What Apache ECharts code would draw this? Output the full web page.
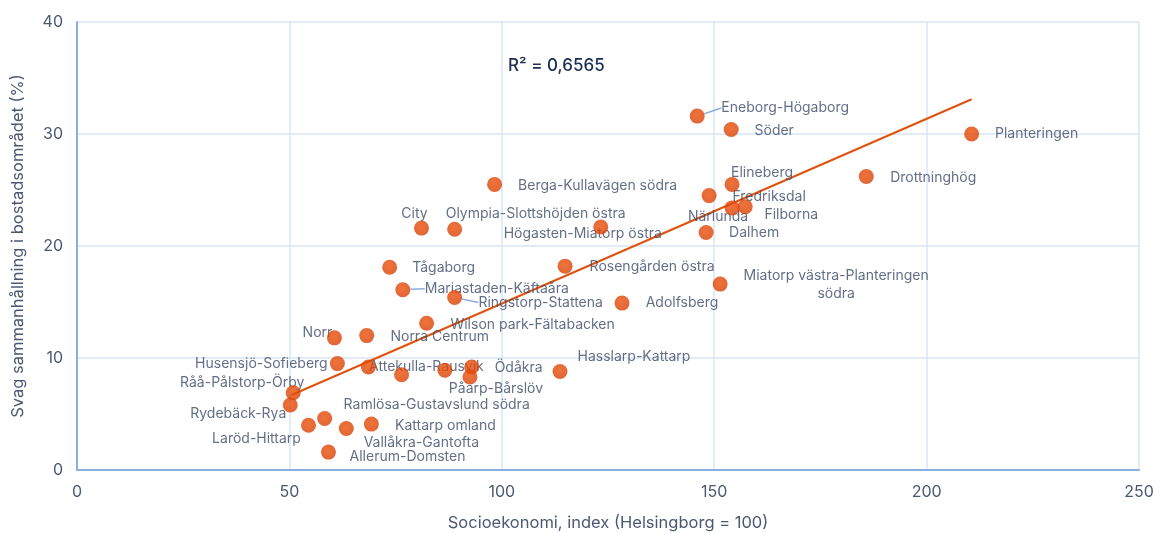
<!DOCTYPE html>
<html>
<head>
<meta charset="utf-8">
<script src="https://cdn.jsdelivr.net/npm/echarts@6/dist/echarts.min.js"></script>
<style>
html,body{margin:0;padding:0;background:#fff;}
#chart{width:1157px;height:533px;}
</style>
</head>
<body>
<div id="chart"></div>
<script>
// bostadsområden
var areaNames = ['Eneborg-Högaborg','Söder','Planteringen','Drottninghög','Elineberg','Berga-Kullavägen södra',
  'Fredriksdal','Närlunda','Filborna','Dalhem','City','Olympia-Slottshöjden östra','Högasten-Miatorp östra',
  'Tågaborg','Rosengården östra','Miatorp västra-Planteringen\nsödra','Mariastaden-Käftaåra','Ringstorp-Stattena',
  'Adolfsberg','Wilson park-Fältabacken','Norr','Norra Centrum','Husensjö-Sofieberg','Attekulla-Rausvik',
  '','','Ödåkra','Påarp-Bårslöv','Hasslarp-Kattarp','Råå-Pålstorp-Örby','Rydebäck-Rya','Laröd-Hittarp',
  'Ramlösa-Gustavslund södra','Vallåkra-Gantofta','Kattarp omland','Allerum-Domsten'];
// socioekonomi, index (x)
var socioIndex = [146.0,154.0,210.6,185.8,154.2,98.3,148.8,154.2,157.3,148.1,81.1,88.9,123.3,
  73.6,114.9,151.4,76.7,88.9,128.3,82.3,60.6,68.2,61.3,68.6,76.4,86.6,92.9,92.5,113.7,50.9,50.2,54.5,
  58.3,63.4,69.3,59.2];
// svag sammanhållning, % (y)
var weakCohesion = [31.6,30.4,30.0,26.2,25.5,25.5,24.5,23.4,23.5,21.2,21.6,21.5,21.7,
  18.1,18.2,16.6,16.1,15.4,14.9,13.1,11.8,12.0,9.5,9.2,8.5,8.9,9.2,8.3,8.8,6.9,5.8,4.0,
  4.6,3.7,4.1,1.6];
// trendlinje (ändpunkter)
var trendX = [50.5, 210.6];
var trendY = [6.7, 33.1];
var rSquared = 'R² = 0,6565';

// etikettplacering i px relativt punkten
var labelOffsets = [[88,-8],[43,1],[65,0],[67,1],[30,-12],[103,1],
  [60,1],[-14,9],[46,8],[48,0],[-7,-14],[81,-15],[-18,7],
  [54,1],[87,1],[116,1],[94,-1],[86,5],
  [60,0],[106,2],[-17,-5],[73,1],[-76,0],[58,0],
  [0,0],[0,0],[47,1],[26,12],[74,-15],[-51,-10],[-52,9],[-52,14],
  [112,-14],[75,14],[74,2],[79,5]];
var leaderIdx = [0,16,17];

var pts = [];
for (var i = 0; i < areaNames.length; i++) {
  var item = {name: areaNames[i], value: [socioIndex[i], weakCohesion[i]]};
  if (leaderIdx.indexOf(i) >= 0) {
    item.labelLine = {show: true, length2: 0, lineStyle: {color: '#8eaede', width: 1.5}};
  }
  pts.push(item);
}
var trend = [[trendX[0], trendY[0]], [trendX[1], trendY[1]]];

var fontFam = 'Inter, "Open Sans", sans-serif';
var myChart = echarts.init(document.getElementById('chart'));
var option = {
  animation: false,
  textStyle: {fontFamily: fontFam},
  grid: {left: 77, right: 18, top: 22, bottom: 63, containLabel: false, outerBoundsMode: 'none'},
  xAxis: {
    type: 'value', min: 0, max: 250, interval: 50,
    name: 'Socioekonomi, index (Helsingborg = 100)',
    nameLocation: 'middle', nameGap: 45,
    nameTextStyle: {color: '#4c5873', fontSize: 16.5, fontFamily: fontFam},
    axisLine: {lineStyle: {color: '#8eaede', width: 2}},
    axisTick: {show: false},
    axisLabel: {color: '#4c5873', fontSize: 16, margin: 14},
    splitLine: {lineStyle: {color: '#d9e4f6', width: 1.5}}
  },
  yAxis: {
    type: 'value', min: 0, max: 40, interval: 10,
    name: 'Svag sammanhållning i bostadsområdet (%)',
    nameLocation: 'middle', nameGap: 50, nameRotate: 90,
    nameTextStyle: {color: '#4c5873', fontSize: 16.5, fontFamily: fontFam},
    axisLine: {show: true, lineStyle: {color: '#8eaede', width: 2}},
    axisTick: {show: false},
    axisLabel: {color: '#4c5873', fontSize: 16, margin: 14},
    splitLine: {lineStyle: {color: '#d9e4f6', width: 1.5}}
  },
  graphic: [{
    type: 'text', left: 508, top: 57,
    style: {text: rSquared, fill: '#1b2d50', font: '500 17px ' + fontFam}
  }],
  series: [
    {
      type: 'line',
      data: trend,
      symbol: 'none',
      z: 1,
      lineStyle: {color: '#e0520f', width: 2},
      silent: true
    },
    {
      name: 'etiketter',
      type: 'scatter',
      data: pts,
      symbolSize: 15,
      z: 2,
      itemStyle: {color: 'rgba(0,0,0,0)'},
      label: {
        show: true,
        position: 'inside',
        formatter: '{b}',
        color: '#3c4a68',
        fontSize: 14,
        fontFamily: fontFam,
        align: 'center',
        lineHeight: 18
      },
      labelLayout: function (p) {
        var o = labelOffsets[p.dataIndex];
        return {dx: o[0], dy: o[1]};
      }
    },
    {
      name: 'områden',
      type: 'scatter',
      data: pts.map(function (d) { return d.value; }),
      symbolSize: 15,
      z: 3,
      itemStyle: {
        color: new echarts.graphic.RadialGradient(0.45, 0.4, 0.65, [
          {offset: 0, color: '#ec4f08'},
          {offset: 1, color: '#d63f04'}
        ])
      }
    }
  ]
};
myChart.setOption(option);
</script>
</body>
</html>
